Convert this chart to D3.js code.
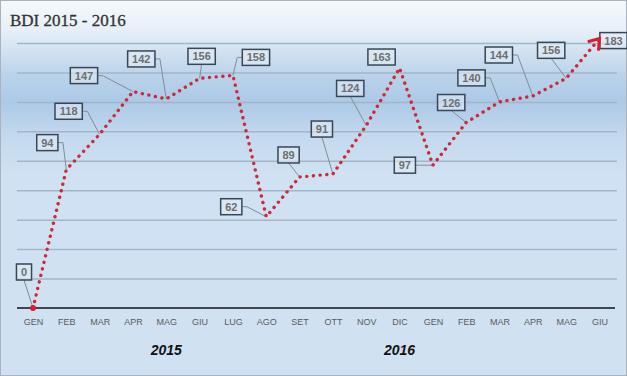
<!DOCTYPE html>
<html>
<head>
<meta charset="utf-8">
<script src="https://d3js.org/d3.v7.min.js"></script>
<style>
  body { margin: 0; background: #fff; }
  svg { display: block; }
</style>
</head>
<body>
<script>
// data
var months = ["GEN","FEB","MAR","APR","MAG","GIU","LUG","AGO","SET","OTT","NOV","DIC",
              "GEN","FEB","MAR","APR","MAG","GIU"];
var bdi = [0, 94, 118, 147, 142, 156, 158, 62, 89, 91, 124, 163, 97, 126, 140, 144, 156, 183];
var years = ["2015", "2016"];
var yearCenter = [4, 11];          // month index each year label sits under
var gridValues = [20, 40, 60, 80, 100, 120, 140, 160, 180];

// callout placement: box offset from its point and where the leader attaches
var callout = [
  {dx: -9,  dy: -36, a: "b"}, {dx: -19, dy: -27, a: "r"}, {dx: -31, dy: -23, a: "r"},
  {dx: -49, dy: -16, a: "r"}, {dx: -25, dy: -40, a: "r"}, {dx: 2,   dy: -22, a: "b"},
  {dx: 23,  dy: -18, a: "l"}, {dx: -35, dy: -10, a: "r"}, {dx: -11, dy: -22, a: "b"},
  {dx: -11, dy: -45, a: "b"}, {dx: -16, dy: -37, a: "b"}, {dx: -18, dy: -11, a: "n"},
  {dx: -28, dy: 0,   a: "r"}, {dx: -15, dy: -20, a: "b"}, {dx: -28, dy: -24, a: "r"},
  {dx: -34, dy: -41, a: "r"}, {dx: -15, dy: -28, a: "b"}, {dx: 14,  dy: 2,   a: "n"}
];

var W = 627, H = 376;
var svg = d3.select("body").append("svg").attr("width", W).attr("height", H);
var defs = svg.append("defs");

var bg = defs.append("linearGradient").attr("id", "bg")
    .attr("x1", 0).attr("y1", 0).attr("x2", 0).attr("y2", 1);
[[0, "#f5f9fd"], [0.08, "#e6eff8"], [0.2, "#bad3ea"], [0.27, "#acc9e6"],
 [0.36, "#c3d9ee"], [0.46, "#cfe1f2"], [1, "#d0e2f2"]].forEach(function(s) {
  bg.append("stop").attr("offset", s[0]).attr("stop-color", s[1]);
});

defs.append("marker").attr("id", "arrow")
    .attr("viewBox", "-14 -10 18 20").attr("markerWidth", 18).attr("markerHeight", 20)
    .attr("markerUnits", "userSpaceOnUse").attr("orient", "auto")
  .append("path")
    .attr("d", "M-10,-7 L0,0 L-10,7")
    .attr("fill", "none").attr("stroke", "#d81e2c").attr("stroke-width", 3);

svg.append("rect").attr("x", 0.5).attr("y", 0.5).attr("width", W - 1).attr("height", H - 1)
    .attr("fill", "url(#bg)").attr("stroke", "#aab3bd");

svg.append("text").attr("x", 10).attr("y", 26)
    .attr("font-family", "'Liberation Serif', 'DejaVu Serif', serif")
    .attr("font-size", 17).attr("fill", "#333")
    .attr("stroke", "#333").attr("stroke-width", 0.3)
    .text("BDI 2015 - 2016");

var x = d3.scaleLinear().domain([0, months.length - 1]).range([33, 599.5]);
var y = d3.scaleLinear().domain([0, 180]).range([308, 43]);

// gridlines
svg.append("g")
    .attr("transform", "translate(617,0)")
    .call(d3.axisLeft(y).tickValues(gridValues).tickSize(600).tickFormat(""))
    .call(function(g) {
      g.select(".domain").remove();
      g.selectAll("line").attr("stroke", "#a3b6c9").attr("stroke-width", 1.5);
    });

// baseline + month labels
svg.append("line").attr("x1", 17).attr("x2", 615).attr("y1", y(0)).attr("y2", y(0))
    .attr("stroke", "#3d4650").attr("stroke-width", 2);

svg.append("g")
    .attr("transform", "translate(0," + y(0) + ")")
    .call(d3.axisBottom(x).tickValues(d3.range(months.length))
        .tickSize(0).tickPadding(11).tickFormat(function(i) { return months[i]; }))
    .call(function(g) {
      g.select(".domain").remove();
      g.selectAll("text").attr("font-family", "'Liberation Sans', Arial, sans-serif")
        .attr("font-size", 9).attr("fill", "#5a5a5a");
    });

svg.selectAll(".year").data(years).enter().append("text")
    .attr("x", function(d, i) { return x(yearCenter[i]); })
    .attr("y", 355)
    .attr("text-anchor", "middle")
    .attr("font-family", "'Liberation Sans', Arial, sans-serif")
    .attr("font-size", 14).attr("font-weight", "bold").attr("font-style", "italic")
    .attr("fill", "#111")
    .text(function(d) { return d; });

// leaders under the line
var pts = bdi.map(function(v, i) { return {v: v, px: x(i), py: y(v), c: callout[i]}; });
pts.forEach(function(p) {
  var w = String(p.v).length * 6.1 + 9, h = 16;
  p.w = w; p.h = h;
  p.bx = p.px + p.c.dx - w / 2;
  p.by = p.py + p.c.dy - h / 2;
});

var leaders = svg.append("g").attr("fill", "none").attr("stroke", "#7f8c99").attr("stroke-width", 1);
pts.forEach(function(p) {
  var d = null, cy = p.by + p.h / 2;
  if (p.c.a === "b") d = "M" + (p.bx + p.w / 2) + "," + (p.by + p.h) + "L" + p.px + "," + p.py;
  if (p.c.a === "r") d = "M" + (p.bx + p.w) + "," + cy + "h5L" + p.px + "," + p.py;
  if (p.c.a === "l") d = "M" + p.bx + "," + cy + "h-5L" + p.px + "," + p.py;
  if (d) leaders.append("path").attr("d", d);
});

// callout boxes
var boxes = svg.selectAll(".callout").data(pts).enter().append("g");
boxes.append("rect")
    .attr("x", function(p) { return p.bx; }).attr("y", function(p) { return p.by; })
    .attr("width", function(p) { return p.w; }).attr("height", function(p) { return p.h; })
    .attr("fill", "rgba(226,236,246,0.55)")
    .attr("stroke", "#394656").attr("stroke-width", 1.5);
boxes.append("text")
    .attr("x", function(p) { return p.bx + p.w / 2; })
    .attr("y", function(p) { return p.by + p.h / 2 + 4; })
    .attr("text-anchor", "middle")
    .attr("font-family", "'Liberation Sans', Arial, sans-serif")
    .attr("font-size", 11).attr("font-weight", "bold").attr("fill", "#6e6e6e")
    .text(function(p) { return p.v; });

// dotted series on top, arrow at the end
svg.append("path")
    .datum(bdi)
    .attr("d", d3.line().x(function(d, i) { return x(i); }).y(function(d) { return y(d); }))
    .attr("fill", "none")
    .attr("stroke", "#cc2a38")
    .attr("stroke-width", 3.4)
    .attr("stroke-linecap", "round")
    .attr("stroke-dasharray", "0.1 6.6")
    .attr("marker-end", "url(#arrow)");

svg.append("circle").attr("cx", x(0)).attr("cy", y(0)).attr("r", 3).attr("fill", "#d4202e");
</script>
</body>
</html>
